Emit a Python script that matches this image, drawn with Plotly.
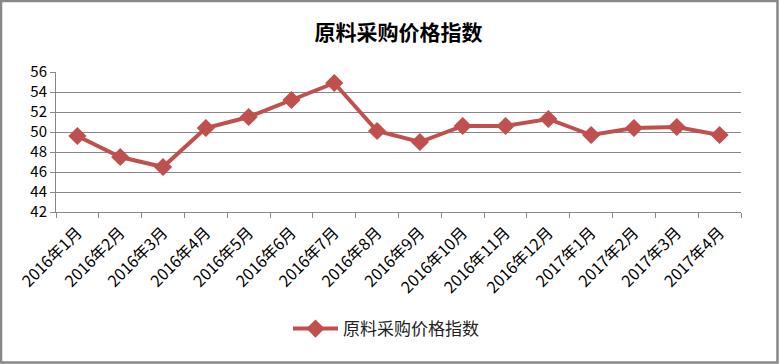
import plotly.graph_objects as go

categories = ["2016年1月", "2016年2月", "2016年3月", "2016年4月", "2016年5月", "2016年6月",
              "2016年7月", "2016年8月", "2016年9月", "2016年10月", "2016年11月", "2016年12月",
              "2017年1月", "2017年2月", "2017年3月", "2017年4月"]
values = [49.6, 47.5, 46.5, 50.4, 51.5, 53.2, 54.9, 50.1, 49.0, 50.6, 50.6, 51.3, 49.7, 50.4, 50.5, 49.7]
series_name = "原料采购价格指数"
y_ticks = [42, 44, 46, 48, 50, 52, 54, 56]

W, H = 779, 364
ml, mr, mt, mb = 56, 38, 72, 152
pw, ph = W - ml - mr, H - mt - mb

font_fam = "'Noto Sans CJK SC', sans-serif"

fig = go.Figure()
fig.add_trace(go.Scatter(
    x=categories, y=values, name=series_name, mode="lines+markers",
    line=dict(color="#C0504D", width=4),
    marker=dict(symbol="diamond", size=14, color="#C0504D"),
))

fig.update_layout(
    width=W, height=H,
    margin=dict(l=ml, r=mr, t=mt, b=mb, autoexpand=False),
    paper_bgcolor="white", plot_bgcolor="white",
    title=dict(text=series_name, x=0.5, xref="paper", xanchor="center",
               y=1 - 33 / H, yanchor="middle",
               font=dict(family="'Noto Sans CJK SC'", size=21, color="black", weight="bold")),
    showlegend=True,
    legend=dict(orientation="h", x=(386 - ml) / pw, xanchor="center", y=-(329 - mt - ph) / ph,
                yanchor="middle",
                font=dict(family="'Noto Sans CJK SC'", size=17, color="#222"),
                itemwidth=45),
    xaxis=dict(type="category", tickangle=-45, tickson="boundaries", ticks="outside",
               ticklen=5, tickcolor="#888", showgrid=False, showline=True, linecolor="#888",
               linewidth=1, tickfont=dict(family=font_fam, size=16, color="black"),
               ticklabelstandoff=4,
               automargin=False, range=[-0.5, len(categories) - 0.5]),
    yaxis=dict(range=[42, 56], tickvals=y_ticks, ticks="outside", ticklen=5, tickcolor="#888",
               showgrid=True, gridcolor="#888", gridwidth=1, showline=True, linecolor="#888",
               linewidth=1, zeroline=False, automargin=False,
               tickfont=dict(family=font_fam, size=15, color="black")),
    shapes=[dict(type="rect", xref="paper", yref="paper",
                 x0=(-ml + 1) / pw, x1=(W - ml - 1.5) / pw,
                 y0=-(mb - 1.5) / ph, y1=(ph + mt - 1) / ph,
                 line=dict(color="#888", width=2.5), fillcolor="rgba(0,0,0,0)", layer="above")],
)

fig.write_html("out.html", config={"displayModeBar": False},
               post_script="document.body.style.margin='0';")
